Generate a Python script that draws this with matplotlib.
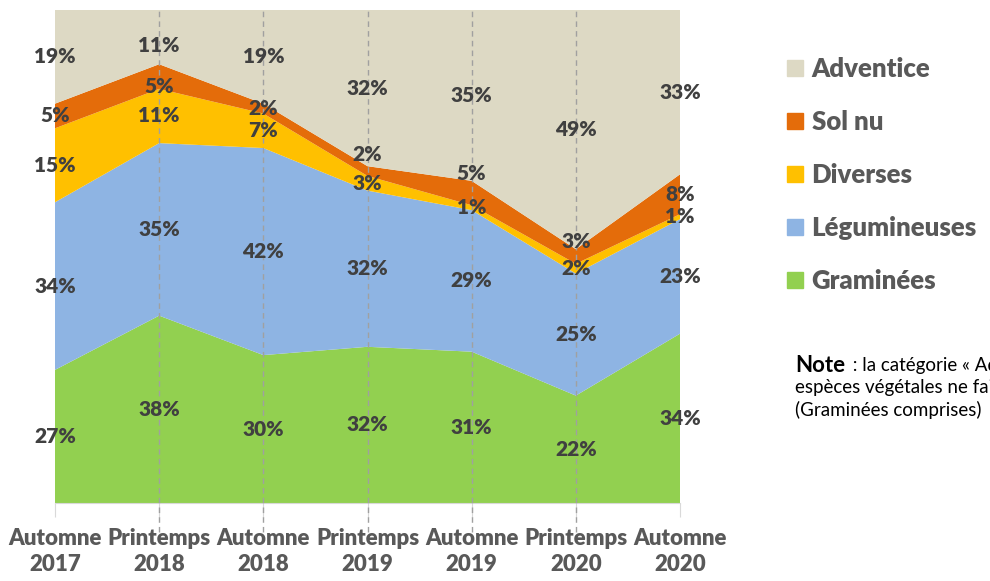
import matplotlib
matplotlib.use("Agg")
import matplotlib.pyplot as plt
from matplotlib.patches import Patch
import numpy as np

# data (percent)
periodes = ["Automne\n2017", "Printemps\n2018", "Automne\n2018", "Printemps\n2019",
            "Automne\n2019", "Printemps\n2020", "Automne\n2020"]
graminees = [27, 38, 30, 32, 31, 22, 34]
legumineuses = [34, 35, 42, 32, 29, 25, 23]
diverses = [15, 11, 7, 3, 1, 2, 1]
sol_nu = [5, 5, 2, 2, 5, 3, 8]
adventice = [19, 11, 19, 32, 35, 49, 33]

noms = ["Graminées", "Légumineuses", "Diverses", "Sol nu", "Adventice"]
couleurs = ["#92D050", "#8EB4E3", "#FFC000", "#E46C0A", "#DDD9C4"]
series = [graminees, legumineuses, diverses, sol_nu, adventice]

# label nudges (in % of height) where the original labels were moved
decalage = {(4, 1): -1.6, (3, 1): -2.0, (3, 3): 3.3, (3, 4): 4.0, (3, 5): 3.0}

plt.rcParams['font.family'] = ['Lato', 'DejaVu Sans']

fig = plt.figure(figsize=(9.9, 5.81), dpi=100)
ax = fig.add_axes([55/990, 1-503/581, 625/990, 493/581])

x = np.arange(len(periodes))
data = np.array(series, dtype=float)
norm = data / data.sum(axis=0) * 100
ax.stackplot(x, norm, colors=couleurs, linewidth=0)

# labels at middle of each band
bas = np.zeros(len(x))
for i, serie in enumerate(series):
    for j in range(len(x)):
        y = bas[j] + norm[i, j] / 2 + decalage.get((i, j), 0)
        ax.text(x[j], y, f"{serie[j]}%", ha="center", va="center",
                fontsize=15, fontweight="heavy", color="#404040", zorder=5)
    bas += norm[i]

# dashed drop lines
ax.vlines(x[1:-1], -5.8, 100, colors="#A0A0A0", linestyles=(0, (4, 3)),
          linewidth=1, clip_on=False, zorder=4)

ax.set_xlim(0, len(x) - 1)
ax.set_ylim(0, 100)
ax.set_yticks([])
for s in ["top", "right", "left"]:
    ax.spines[s].set_visible(False)
ax.spines["bottom"].set_color("#D9D9D9")
ax.set_xticks(x)
ax.set_xticklabels(periodes, fontsize=16, fontweight="heavy", color="#595959",
                   linespacing=1.3)
ax.tick_params(axis="x", length=10, color="#D9D9D9", pad=8)

handles = [Patch(color=c) for c in couleurs][::-1]
fig.legend(handles, noms[::-1], loc="upper left",
           bbox_to_anchor=(764/990, 1-34/581), frameon=False,
           prop={"size": 18.5, "weight": "heavy"}, labelcolor="#595959",
           handlelength=0.6, handleheight=0.6, handletextpad=0.35,
           labelspacing=1.13)

fig.text(795/990, 1-366/581, "Note", fontsize=16, fontweight="bold",
         va="center", color="black")
fig.text(848/990, 1-366/581, " : la catégorie « Adventice » regroupe les",
         fontsize=13.5, va="center", color="black")
fig.text(795/990, 1-388/581, "espèces végétales ne faisant pas partie du mélange",
         fontsize=13.5, va="center", color="black")
fig.text(795/990, 1-410/581, "(Graminées comprises)",
         fontsize=13.5, va="center", color="black")

fig.savefig("out.png", dpi=100)
